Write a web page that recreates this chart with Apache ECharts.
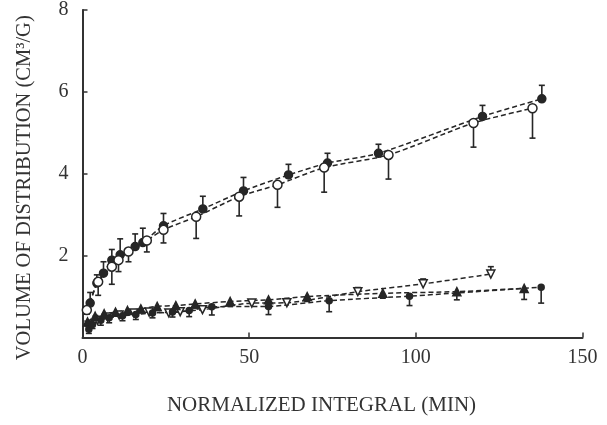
<!DOCTYPE html>
<html>
<head>
<meta charset="utf-8">
<script src="https://cdn.jsdelivr.net/npm/echarts@6/dist/echarts.min.js"></script>
<style>
  html, body { margin: 0; padding: 0; background: #fff; }
  #chart { width: 607px; height: 425px; }
</style>
</head>
<body>
<div id="chart"></div>
<script>
// Axis ticks
const xTicks = [0, 50, 100, 150];
const yTicks = [0, 2, 4, 6, 8];

// Upper pair: filled circles (error bars up) and open circles (error bars down)
const filledCircX = [2.3, 4.3, 6.3, 8.8, 11.3, 15.8, 18.1, 24.3, 36.1, 48.3, 61.8, 73.5, 88.8, 120.0, 137.8];
const filledCircY = [0.84, 1.33, 1.57, 1.89, 2.02, 2.22, 2.32, 2.73, 3.14, 3.58, 3.97, 4.26, 4.50, 5.40, 5.83];
const filledCircErr = [0.26, 0.20, 0.28, 0.26, 0.39, 0.31, 0.35, 0.30, 0.31, 0.33, 0.26, 0.24, 0.22, 0.27, 0.33];

const openCircX = [1.3, 4.7, 8.8, 10.8, 13.8, 19.3, 24.3, 34.1, 47.0, 58.5, 72.5, 91.8, 117.3, 135.0];
const openCircY = [0.67, 1.36, 1.73, 1.89, 2.10, 2.37, 2.63, 2.95, 3.44, 3.73, 4.15, 4.46, 5.24, 5.60];
const openCircErr = [0.10, 0.33, 0.43, 0.28, 0.25, 0.28, 0.32, 0.53, 0.47, 0.55, 0.60, 0.59, 0.59, 0.73];

// Lower group: open inverted triangles, filled triangles, filled dots
const openTriX = [2.0, 4.5, 7.5, 11.0, 15.4, 20.0, 25.9, 29.3, 36.0, 50.8, 61.3, 82.6, 102.2, 122.5];
const openTriY = [0.30, 0.42, 0.50, 0.55, 0.60, 0.62, 0.60, 0.63, 0.68, 0.84, 0.85, 1.12, 1.31, 1.55];
const openTriErr = [0.05, 0.05, 0.05, 0.05, 0.05, 0.05, 0.05, 0.05, 0.06, 0.08, 0.10, 0.10, 0.12, 0.18];

const filledTriX = [1.5, 3.8, 6.5, 9.9, 13.5, 17.5, 22.4, 28.0, 33.8, 44.3, 55.8, 67.4, 90.1, 112.3, 132.5];
const filledTriY = [0.38, 0.52, 0.58, 0.62, 0.66, 0.70, 0.76, 0.78, 0.82, 0.88, 0.92, 1.00, 1.08, 1.12, 1.20];
const filledTriErr = [0.10, 0.10, 0.10, 0.10, 0.10, 0.10, 0.10, 0.10, 0.10, 0.12, 0.15, 0.12, 0.12, 0.20, 0.27];

const dotX = [1.9, 3.0, 5.5, 8.0, 12.0, 16.0, 21.0, 27.0, 32.0, 38.8, 55.8, 74.0, 98.1, 137.6];
const dotY = [0.20, 0.32, 0.42, 0.48, 0.53, 0.56, 0.60, 0.62, 0.66, 0.75, 0.76, 0.90, 1.01, 1.23];
const dotErr = [0.10, 0.10, 0.12, 0.12, 0.12, 0.12, 0.12, 0.12, 0.15, 0.20, 0.20, 0.27, 0.23, 0.39];

const INK = '#262626';
const FONT = '"Liberation Serif", "DejaVu Serif", serif';

function pairs(xs, ys) { return xs.map((x, i) => [x, ys[i]]); }
function bars(xs, ys, errs, dir) { return xs.map((x, i) => [x, ys[i], ys[i] + dir * errs[i]]); }

function errorBar(params, api) {
  const p = api.coord([api.value(0), api.value(1)]);
  const e = api.coord([api.value(0), api.value(2)]);
  const cap = 3;
  const style = { stroke: INK, lineWidth: 1.6 };
  return {
    type: 'group',
    children: [
      { type: 'line', shape: { x1: p[0], y1: p[1], x2: e[0], y2: e[1] }, style },
      { type: 'line', shape: { x1: e[0] - cap, y1: e[1], x2: e[0] + cap, y2: e[1] }, style }
    ]
  };
}

function errSeries(data) {
  return { type: 'custom', renderItem: errorBar, data, encode: { x: 0, y: [1, 2] }, z: 2, silent: true };
}

function lineSeries(data, symbol, size, fill, extra) {
  return Object.assign({
    type: 'line',
    data,
    smooth: 0.25,
    symbol,
    symbolSize: size,
    showAllSymbol: true,
    lineStyle: { color: INK, width: 1.5, type: [5, 3] },
    itemStyle: { color: fill, borderColor: INK, borderWidth: 1.5, opacity: 1 },
    z: 3,
    silent: true
  }, extra || {});
}

const chart = echarts.init(document.getElementById('chart'));
chart.setOption({
  animation: false,
  backgroundColor: '#fff',
  grid: { left: 82.5, right: 24.5, top: 10, bottom: 87.5 },
  xAxis: {
    type: 'value',
    min: xTicks[0], max: xTicks[xTicks.length - 1], interval: xTicks[1] - xTicks[0],
    name: 'NORMALIZED INTEGRAL (MIN)',
    nameLocation: 'middle',
    nameGap: 57,
    nameTextStyle: { fontFamily: FONT, fontSize: 21, color: '#333', padding: [0, 22, 0, 0] },
    axisLine: { lineStyle: { color: '#333', width: 2 } },
    axisTick: { inside: true, length: 5, lineStyle: { color: '#333', width: 1.5 } },
    axisLabel: { fontFamily: FONT, fontSize: 20, color: '#333', margin: 10 },
    splitLine: { show: false }
  },
  yAxis: {
    type: 'value',
    min: yTicks[0], max: yTicks[yTicks.length - 1], interval: yTicks[1] - yTicks[0],
    name: 'VOLUME OF DISTRIBUTION (CM³/G)',
    nameLocation: 'middle',
    nameGap: 47,
    nameRotate: 90,
    nameTextStyle: { fontFamily: FONT, fontSize: 20.5, color: '#333', padding: [0, 28, 0, 0] },
    axisLine: { show: true, lineStyle: { color: '#333', width: 2 } },
    axisTick: { show: true, inside: true, length: 5, lineStyle: { color: '#333', width: 1.5 } },
    axisLabel: { fontFamily: FONT, fontSize: 20, color: '#333', margin: 14, showMinLabel: false },
    splitLine: { show: false }
  },
  series: [
    errSeries(bars(filledCircX, filledCircY, filledCircErr, 1)),
    errSeries(bars(openCircX, openCircY, openCircErr, -1)),
    errSeries(bars(openTriX, openTriY, openTriErr, 1)),
    errSeries(bars(filledTriX, filledTriY, filledTriErr, -1)),
    errSeries(bars(dotX, dotY, dotErr, -1)),
    lineSeries(pairs(filledCircX, filledCircY), 'circle', 8, INK),
    lineSeries(pairs(openCircX, openCircY), 'circle', 9, '#fff'),
    lineSeries(pairs(openTriX, openTriY), 'triangle', 8, '#fff', { symbolRotate: 180 }),
    lineSeries(pairs(filledTriX, filledTriY), 'triangle', 8, INK),
    lineSeries(pairs(dotX, dotY), 'circle', 6, INK)
  ]
});
</script>
</body>
</html>
